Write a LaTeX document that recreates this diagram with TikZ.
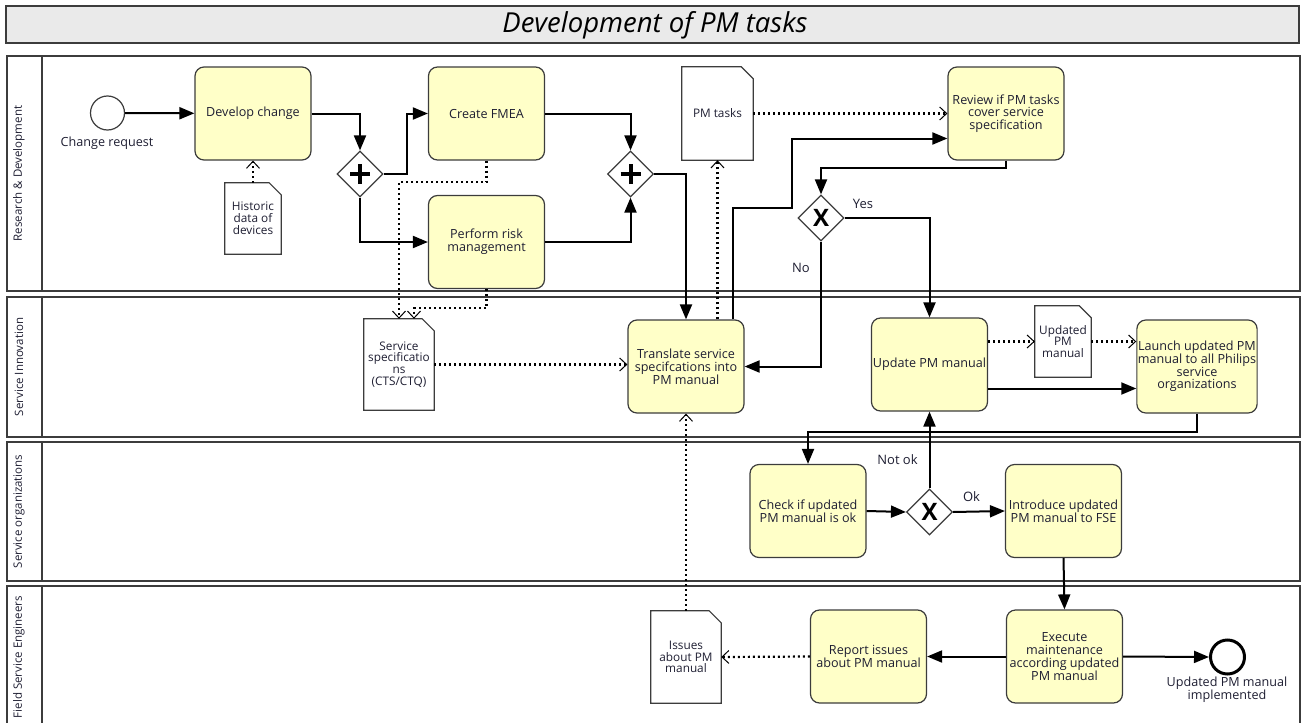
\documentclass[tikz,border=0pt]{standalone}
\usepackage{fontspec}
\setmainfont{Open Sans}
\usetikzlibrary{arrows.meta,shapes.geometric,calc}
\definecolor{taskfill}{RGB}{255,255,200}
\definecolor{titlefill}{RGB}{234,234,234}
\definecolor{inkgray}{RGB}{60,60,60}
\definecolor{textink}{RGB}{30,30,50}
\def\TaskW{116pt}
\def\TaskH{93pt}
\def\GateSize{46pt}
\def\EventSize{34pt}
\def\Fold{12pt}

\begin{document}
\begin{tikzpicture}[x=1pt,y=-1pt,
  task/.style={draw=inkgray, line width=1.2pt, fill=taskfill, rounded corners=9pt,
    minimum width=\TaskW, minimum height=\TaskH, align=center, inner sep=1pt,
    text=textink, font=\fontsize{12.6}{12.8}\selectfont},
  doc/.style={align=center, inner sep=1pt, text=textink,
    font=\fontsize{11.8}{11.8}\selectfont},
  docline/.style={draw=inkgray, line width=1.2pt, fill=white},
  gate/.style={diamond, draw=inkgray, line width=1.2pt, fill=white, inner sep=0pt,
    minimum width=\GateSize, minimum height=\GateSize},
  xgate/.style={gate, font=\fontsize{24}{24}\selectfont\bfseries},
  startevt/.style={circle, draw=inkgray, line width=1.2pt, fill=white, minimum size=\EventSize},
  endevt/.style={circle, draw=black, line width=3pt, fill=white, minimum size=\EventSize},
  evtlabel/.style={align=center, text=textink, font=\fontsize{12.6}{12.8}\selectfont},
  flowlabel/.style={text=textink, font=\fontsize{13}{13}\selectfont},
  lane/.style={draw=inkgray, line width=1.6pt},
  lanelabel/.style={rotate=90, text=textink, font=\fontsize{11.5}{11.5}\selectfont},
  flow/.style={draw=black, line width=2pt, -{Triangle[length=15pt,width=12pt]}},
  assoc/.style={draw=black, line width=2.2pt, dash pattern=on 2pt off 3pt,
    -{Straight Barb[length=7pt,width=13pt,line width=1pt]}}]
  \useasboundingbox (0,0) rectangle (1302,723);
  \clip (0,0) rectangle (1302,723);
  % title
  \draw[lane, fill=titlefill] (6,6) rectangle (1299,43);
  \node[text=black, font=\fontsize{27.5}{27.5}\selectfont\itshape] (title) at (655,25) {Development of PM tasks};
  % lanes
  \foreach \ytop/\ybot/\lname [count=\i] in {56/291/Research \& Development,
      297/437/Service Innovation, 442/581/Service organizations,
      586/728/Field Service Engineers}
    {
      \draw[lane] (7,\ytop) rectangle (1300,\ybot);
      \draw[lane] (42,\ytop) -- (42,\ybot);
      \node[lanelabel] (lane\i) at (19,{(\ytop+\ybot)/2}) {\lname};
    }
  % events
  \node[startevt] (start) at (107.5,113) {};
  \node[evtlabel] (startlbl) at (107,143) {Change request};
  \node[endevt] (finish) at (1227.5,657) {};
  \node[evtlabel] (finishlbl) at (1227,690) {Updated PM manual\\implemented};
  % tasks
  \node[task] (dev) at (253,113.5) {Develop change};
  \node[task] (fmea) at (486.5,113.5) {Create FMEA};
  \node[task] (risk) at (486.5,242) {Perform risk\\management};
  \node[task] (review) at (1006,113.5) {Review if PM tasks\\cover service\\specification};
  \node[task] (trans) at (686,366.5) {Translate service\\specifcations into\\PM manual};
  \node[task] (upd) at (929.5,364.5) {Update PM manual};
  \node[task] (launch) at (1197,366.5) {Launch updated PM\\manual to all Philips\\service\\organizations};
  \node[task] (check) at (808,511) {Check if updated\\PM manual is ok};
  \node[task] (intro) at (1063.5,511) {Introduce updated\\PM manual to FSE};
  \node[task] (exec) at (1064.5,656.5) {Execute\\maintenance\\according updated\\PM manual};
  \node[task] (report) at (868.5,656.5) {Report issues\\about PM manual};
  % gateways
  \node[gate] (g1) at (360,174) {};
  \node[gate] (g2) at (630.5,174) {};
  \node[xgate] (x1) at (821,218) {X};
  \node[xgate] (x2) at (929.5,512) {X};
  \foreach \g in {g1,g2}
    {
      \draw[line width=4pt] ([xshift=-10pt]\g.center) -- ([xshift=10pt]\g.center)
        ([yshift=-10pt]\g.center) -- ([yshift=10pt]\g.center);
    }
  % data objects
  \node[doc, minimum width=56pt, minimum height=71pt] (hist) at (253,218.5) {};
  \node[doc, minimum width=70pt, minimum height=91pt] (spec) at (399,364.5) {};
  \node[doc, minimum width=71pt, minimum height=93pt] (pmt) at (717.5,113.5) {};
  \node[doc, minimum width=56pt, minimum height=71pt] (updoc) at (1063,341.5) {};
  \node[doc, minimum width=70pt, minimum height=92pt] (iss) at (686,657) {};
  \foreach \d in {hist,spec,pmt,updoc,iss}
    {
      \draw[docline] (\d.south west) -- (\d.north west) -- ([xshift=-\Fold]\d.north east)
        -- ([yshift=-\Fold]\d.north east) -- (\d.south east) -- cycle;
    }
  \node[doc] at (hist) {Historic\\data of\\devices};
  \node[doc] at (spec) {Service\\specificatio\\ns\\(CTS/CTQ)};
  \node[doc] at (pmt) {PM tasks};
  \node[doc] at (updoc) {Updated\\PM\\manual};
  \node[doc] at (iss) {Issues\\about PM\\manual};
  % sequence flows
  \draw[flow] (start) -- (dev);
  \draw[flow] (dev.east) -| (g1.north);
  \draw[flow] (g1.east) -- ++(23,0) |- (fmea.west);
  \draw[flow] (g1.south) |- (risk.west);
  \draw[flow] (fmea.east) -| (g2.north);
  \draw[flow] (risk.east) -| (g2.south);
  \draw[flow] (g2.east) -| (trans.north);
  \coordinate (bend) at (791.5,208);
  \draw[flow] ([xshift=-12pt]trans.north east) |- (bend) |- ([yshift=-25pt]review.west);
  \draw[flow] (review.south) -- ++(0,7) -| (x1.north);
  \draw[flow] (x1.east) -| (upd.north);
  \draw[flow] (x1.south) |- (trans.east);
  \coordinate (updout) at ([yshift=-24pt]upd.east);
  \draw[flow] (updout) -- (updout -| launch.west);
  \draw[flow] (launch.south) -- ++(0,18) -| (check.north);
  \draw[flow] (check.east) -- (x2.west);
  \draw[flow] (x2.north) -- (upd.south);
  \draw[flow] (x2.east) -- (intro.west);
  \draw[flow] (intro.south) -- (exec.north);
  \draw[flow] (exec.west) -- (report.east);
  \draw[flow] (exec.east) -- (finish.west);
  % associations
  \draw[assoc] (hist.north) -- (dev.south);
  \draw[assoc] (fmea.south) -- ++(0,21) -| (spec.north);
  \draw[assoc] (risk.south) -- ++(0,19) -| ([xshift=15pt]spec.north);
  \draw[assoc] (spec.east) -- (spec.east -| trans.west);
  \draw[assoc] (trans.north -| pmt.south) -- (pmt.south);
  \draw[assoc] (pmt.east) -- (review.west);
  \draw[assoc] (updoc.west -| upd.east) -- (updoc.west);
  \draw[assoc] (updoc.east) -- (updoc.east -| launch.west);
  \draw[assoc] (report.west) -- (iss.east);
  \draw[assoc] (iss.north) -- (trans.south);
  % labels
  \node[flowlabel] (yes) at (863,204) {Yes};
  \node[flowlabel] (no) at (801,268) {No};
  \node[flowlabel] (notok) at (897.5,460) {Not ok};
  \node[flowlabel] (ok) at (971.5,497) {Ok};
\end{tikzpicture}
\end{document}
